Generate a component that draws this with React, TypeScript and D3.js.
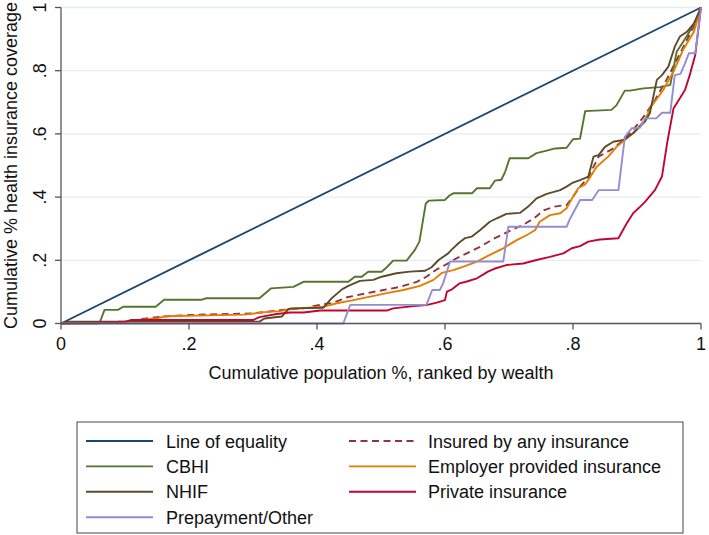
import React from "react";
import * as d3 from "d3";

type Pt = [number, number];

const equality: Pt[] = [[0, 0], [1, 1]];

const insured: Pt[] = [[0,0],[0.1,0.006],[0.13,0.015],[0.16,0.022],[0.2,0.027],[0.3,0.032],[0.342,0.042],[0.39,0.05],[0.394,0.055],[0.426,0.066],[0.447,0.083],[0.478,0.096],[0.504,0.106],[0.53,0.116],[0.556,0.132],[0.571,0.148],[0.587,0.171],[0.605,0.19],[0.613,0.201],[0.634,0.222],[0.655,0.243],[0.678,0.27],[0.699,0.291],[0.722,0.312],[0.739,0.333],[0.755,0.359],[0.771,0.37],[0.79,0.375],[0.8,0.401],[0.811,0.433],[0.824,0.463],[0.84,0.528],[0.863,0.554],[0.879,0.581],[0.896,0.618],[0.9125,0.66],[0.928,0.707],[0.946,0.771],[0.962,0.834],[0.978,0.897],[0.991,0.95],[1,1]];

const cbhi: Pt[] = [[0,0],[0.06,0],[0.068,0.043],[0.089,0.043],[0.097,0.053],[0.148,0.053],[0.161,0.075],[0.219,0.075],[0.227,0.08],[0.31,0.08],[0.328,0.111],[0.363,0.116],[0.379,0.132],[0.449,0.132],[0.459,0.148],[0.47,0.148],[0.48,0.164],[0.501,0.164],[0.509,0.178],[0.519,0.199],[0.54,0.199],[0.553,0.233],[0.56,0.259],[0.57,0.38],[0.575,0.389],[0.6,0.391],[0.607,0.405],[0.613,0.412],[0.642,0.412],[0.65,0.428],[0.67,0.428],[0.678,0.452],[0.688,0.455],[0.694,0.48],[0.701,0.523],[0.73,0.523],[0.743,0.539],[0.759,0.547],[0.772,0.554],[0.79,0.556],[0.8,0.583],[0.811,0.585],[0.819,0.672],[0.86,0.676],[0.868,0.691],[0.881,0.737],[0.889,0.737],[0.91,0.744],[0.936,0.748],[0.952,0.755],[0.962,0.86],[0.975,0.9],[0.99,0.95],[1,1]];

const employer: Pt[] = [[0,0],[0.09,0.003],[0.11,0.008],[0.152,0.017],[0.162,0.023],[0.287,0.028],[0.318,0.036],[0.342,0.039],[0.358,0.046],[0.41,0.053],[0.431,0.064],[0.457,0.074],[0.483,0.085],[0.509,0.096],[0.535,0.106],[0.561,0.119],[0.582,0.138],[0.595,0.16],[0.613,0.169],[0.629,0.18],[0.65,0.196],[0.67,0.217],[0.691,0.238],[0.712,0.264],[0.728,0.28],[0.741,0.296],[0.748,0.322],[0.764,0.343],[0.78,0.349],[0.79,0.365],[0.8,0.401],[0.808,0.428],[0.819,0.44],[0.824,0.454],[0.837,0.496],[0.855,0.528],[0.868,0.559],[0.881,0.581],[0.896,0.607],[0.9125,0.644],[0.922,0.686],[0.941,0.739],[0.957,0.797],[0.972,0.866],[0.989,0.923],[1,1]];

const nhif: Pt[] = [[0,0],[0.01,0.006],[0.31,0.006],[0.318,0.016],[0.345,0.022],[0.355,0.045],[0.36,0.048],[0.41,0.05],[0.423,0.08],[0.439,0.108],[0.449,0.119],[0.467,0.135],[0.488,0.138],[0.501,0.148],[0.524,0.159],[0.545,0.164],[0.569,0.167],[0.579,0.178],[0.59,0.201],[0.605,0.222],[0.61,0.233],[0.621,0.254],[0.631,0.27],[0.642,0.275],[0.655,0.296],[0.67,0.322],[0.681,0.333],[0.696,0.347],[0.717,0.35],[0.73,0.37],[0.743,0.396],[0.759,0.41],[0.78,0.422],[0.79,0.433],[0.8,0.446],[0.811,0.454],[0.824,0.465],[0.832,0.528],[0.84,0.533],[0.85,0.559],[0.863,0.575],[0.879,0.581],[0.894,0.602],[0.9125,0.639],[0.92,0.665],[0.931,0.771],[0.939,0.786],[0.949,0.813],[0.959,0.876],[0.967,0.908],[0.978,0.923],[0.989,0.95],[1,1]];

const privateIns: Pt[] = [[0,0],[0.1,0.005],[0.11,0.011],[0.3,0.011],[0.31,0.02],[0.337,0.03],[0.358,0.035],[0.379,0.035],[0.405,0.041],[0.509,0.041],[0.519,0.048],[0.551,0.055],[0.571,0.058],[0.587,0.066],[0.6,0.074],[0.603,0.101],[0.611,0.108],[0.623,0.127],[0.634,0.133],[0.65,0.143],[0.667,0.164],[0.678,0.174],[0.696,0.185],[0.722,0.19],[0.743,0.201],[0.764,0.211],[0.785,0.222],[0.798,0.238],[0.811,0.245],[0.824,0.259],[0.842,0.266],[0.871,0.27],[0.884,0.317],[0.894,0.349],[0.905,0.37],[0.9125,0.385],[0.928,0.422],[0.939,0.465],[0.947,0.57],[0.957,0.68],[0.967,0.713],[0.975,0.739],[0.983,0.79],[0.991,0.85],[1,1]];

const prepayment: Pt[] = [[0,0],[0.441,0],[0.452,0.059],[0.571,0.059],[0.58,0.106],[0.592,0.106],[0.597,0.127],[0.608,0.196],[0.691,0.196],[0.699,0.306],[0.79,0.306],[0.795,0.33],[0.811,0.391],[0.83,0.391],[0.84,0.422],[0.871,0.422],[0.881,0.591],[0.892,0.618],[0.905,0.62],[0.9125,0.649],[0.93,0.649],[0.939,0.667],[0.952,0.667],[0.959,0.786],[0.968,0.79],[0.975,0.823],[0.981,0.855],[0.991,0.855],[1,1]];

const seriesNames = ["Line of equality", "Insured by any insurance", "CBHI", "Employer provided insurance", "NHIF", "Private insurance", "Prepayment/Other"];
const seriesData: Pt[][] = [equality, insured, cbhi, employer, nhif, privateIns, prepayment];
const seriesColors = ["#1a476f", "#90353b", "#55752f", "#e37e00", "#5e4b2a", "#c10534", "#938dd2"];
const seriesDashed = [false, true, false, false, false, false, false];

const xTicks = [0, 0.2, 0.4, 0.6, 0.8, 1];
const yTicks = [0, 0.2, 0.4, 0.6, 0.8, 1];
const tickLabel = (v: number) => (v === 0 ? "0" : v === 1 ? "1" : String(v).replace(/^0/, ""));

const xTitle = "Cumulative population %, ranked by wealth";
const yTitle = "Cumulative % health insurance coverage";

export default function App() {
  const W = 709, H = 535;
  const left = 61, right = 701, top = 7.5, bottom = 323.5;
  const x = d3.scaleLinear().domain([0, 1]).range([left, right]);
  const y = d3.scaleLinear().domain([0, 1]).range([bottom, top]);
  const line = d3.line<Pt>().x((d) => x(d[0])).y((d) => y(d[1]));
  const font = "'Liberation Sans', Arial, Helvetica, sans-serif";
  const axisColor = "#555";

  // legend layout: 2 columns, row-wise fill
  const legLeft = 77, legRight = 683, legTop = 422, legBottom = 533;
  const rowY0 = 441, rowStep = 25.4;
  const colLine = [[86, 153], [349, 416]];
  const colText = [166, 428];

  return (
    <svg width={W} height={H} style={{ position: "absolute", left: 0, top: 0, background: "#fff" }} fontFamily={font}>
      <rect x={0} y={0} width={W} height={H} fill="#fff" />
      {yTicks.filter((t) => t > 0).map((t) => (
        <line key={"g" + t} x1={left} x2={right} y1={y(t)} y2={y(t)} stroke="#e6eef0" strokeWidth={1.3} />
      ))}
      {seriesData.map((data, i) => (
        <path key={seriesNames[i]} d={line(data) || ""} fill="none" stroke={seriesColors[i]} strokeWidth={1.9}
          strokeDasharray={seriesDashed[i] ? "7 4.5" : undefined} strokeLinejoin="round" />
      ))}
      {/* axes */}
      <line x1={left} x2={right} y1={bottom} y2={bottom} stroke={axisColor} strokeWidth={1.3} />
      <line x1={left} x2={left} y1={top} y2={bottom} stroke={axisColor} strokeWidth={1.3} />
      {xTicks.map((t) => (
        <g key={"xt" + t}>
          <line x1={x(t)} x2={x(t)} y1={bottom} y2={bottom + 6} stroke={axisColor} strokeWidth={1.3} />
          <text x={x(t)} y={350} textAnchor="middle" fontSize={18} fill="#111">{tickLabel(t)}</text>
        </g>
      ))}
      {yTicks.map((t) => (
        <g key={"yt" + t}>
          <line x1={left - 6} x2={left} y1={y(t)} y2={y(t)} stroke={axisColor} strokeWidth={1.3} />
          <text transform={`translate(46,${y(t)}) rotate(-90)`} textAnchor="middle" fontSize={18} fill="#111">{tickLabel(t)}</text>
        </g>
      ))}
      <text x={(left + right) / 2} y={379} textAnchor="middle" fontSize={18} fill="#111">{xTitle}</text>
      <text transform={`translate(17,${(top + bottom) / 2}) rotate(-90)`} textAnchor="middle" fontSize={18} fill="#111">{yTitle}</text>
      {/* legend */}
      <rect x={legLeft} y={legTop} width={legRight - legLeft} height={legBottom - legTop} fill="#fff" stroke="#444" strokeWidth={1} />
      {seriesNames.map((name, i) => {
        const col = i % 2;
        const row = Math.floor(i / 2);
        const ly = rowY0 + row * rowStep;
        return (
          <g key={"lg" + name}>
            <line x1={colLine[col][0]} x2={colLine[col][1]} y1={ly} y2={ly} stroke={seriesColors[i]} strokeWidth={1.9}
              strokeDasharray={seriesDashed[i] ? "7 4.5" : undefined} />
            <text x={colText[col]} y={ly + 6.5} fontSize={18} fill="#111">{name}</text>
          </g>
        );
      })}
    </svg>
  );
}
